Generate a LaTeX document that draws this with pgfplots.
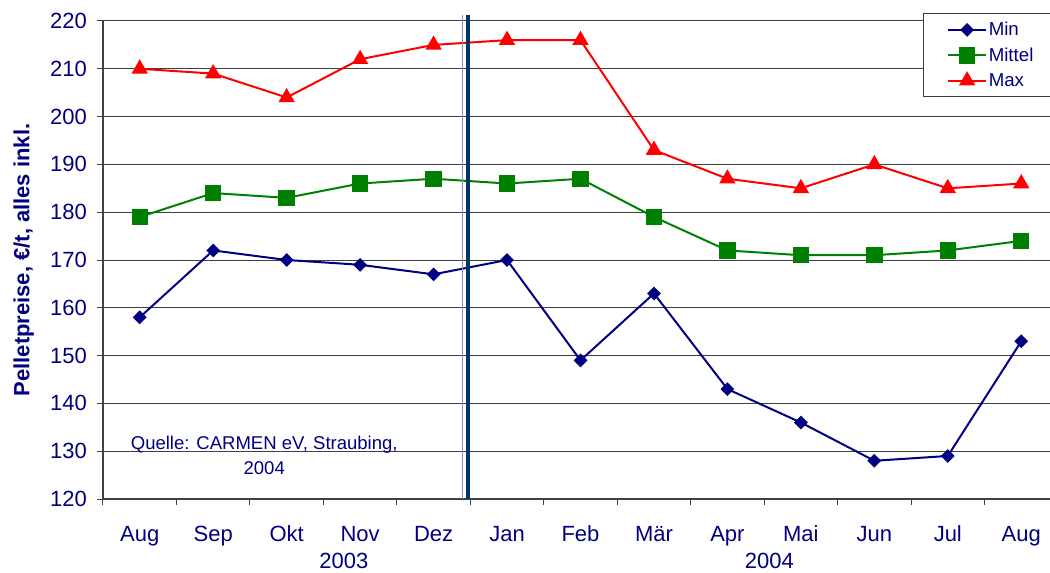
\documentclass[border=0pt]{standalone}
\usepackage{pgfplots}
\pgfplotsset{compat=1.18}
\usepackage{fontspec}
\setmainfont{Liberation Sans}
\definecolor{navy}{RGB}{0,0,128}
\definecolor{xgreen}{RGB}{0,128,0}
\definecolor{xred}{RGB}{255,0,0}
\definecolor{sepd}{RGB}{0,51,102}
\definecolor{sepl}{RGB}{125,150,180}
\begin{document}
\begin{tikzpicture}
\useasboundingbox (0,0) rectangle (787.5pt,429pt);
\begin{axis}[
  at={(77.25pt,54.75pt)}, anchor=south west,
  width=716.25pt, height=358.5pt, scale only axis,
  xmin=-0.5, xmax=12.5, ymin=120, ymax=220,
  clip=false,
  /pgf/number format/assume math mode=true,
  xtick={-0.5,0.5,...,12.5},
  x tick label as interval,
  xticklabels={Aug,Sep,Okt,Nov,Dez,Jan,Feb,Mär,Apr,Mai,Jun,Jul,Aug},
  ytick={120,130,...,220},
  ymajorgrids,
  major grid style={draw=black!75, line width=0.75pt},
  axis lines*=left,
  axis line style={black!75, line width=1.1pt},
  tick align=outside,
  tick style={black!75, line width=0.75pt},
  major tick length=4.5pt,
  ticklabel style={font=\fontsize{16.5}{19}\selectfont, text=navy},
  yticklabel style={xshift=-4pt},
  xticklabel style={yshift=-12pt, text height=12pt, text depth=3.5pt},
  ylabel={Pelletpreise, €/t, alles inkl.},
  ylabel style={font=\fontsize{16.5}{19}\selectfont\bfseries, text=navy, at={(axis description cs:-0.083,0.5)}, anchor=center, rotate=0},
  legend style={at={(axis description cs:0.8586,1.0167)}, anchor=north west,
    draw=black!75, line width=0.75pt, fill=white,
    font=\fontsize{14}{16}\selectfont, text=navy,
    inner xsep=18pt, inner ysep=5pt, row sep=4.5pt,
    nodes={text width=60pt, inner sep=1.5pt}},
  legend cell align=left,
  legend image code/.code={\draw[mark repeat=2,mark phase=2,#1] plot coordinates {(0pt,0pt) (14pt,0pt) (28pt,0pt)};},
]
\addplot[navy, line width=1.5pt, mark=square*, mark size=2.9pt, mark options={rotate=45, solid}]
coordinates {(0,158) (1,172) (2,170) (3,169) (4,167) (5,170) (6,149) (7,163) (8,143) (9,136) (10,128) (11,129) (12,153)};
\addlegendentry{Min}
\addplot[xgreen, line width=1.5pt, mark=square*, mark size=5.4pt, mark options={solid}]
coordinates {(0,179) (1,184) (2,183) (3,186) (4,187) (5,186) (6,187) (7,179) (8,172) (9,171) (10,171) (11,172) (12,174)};
\addlegendentry{Mittel}
\addplot[xred, line width=1.5pt, mark=triangle*, mark size=5.6pt, mark options={solid}]
coordinates {(0,210) (1,209) (2,204) (3,212) (4,215) (5,216) (6,216) (7,193) (8,187) (9,185) (10,190) (11,185) (12,186)};
\addlegendentry{Max}
\draw[sepl, line width=1.2pt] (axis cs:4.395,120) -- (axis cs:4.395,221.2);
\draw[sepd, line width=3pt] (axis cs:4.465,120) -- (axis cs:4.465,221.3);
\node[text=navy, font=\fontsize{16.5}{19}\selectfont] at (axis cs:2.78,120) [yshift=-46.5pt] {2003};
\node[text=navy, font=\fontsize{16.5}{19}\selectfont] at (axis cs:8.57,120) [yshift=-46.5pt] {2004};
\node[text=navy, font=\fontsize{13.9}{18.5}\selectfont, align=center] at (axis cs:1.695,129.1) {Quelle: CARMEN eV, Straubing,\\2004};
\end{axis}
\end{tikzpicture}
\end{document}
